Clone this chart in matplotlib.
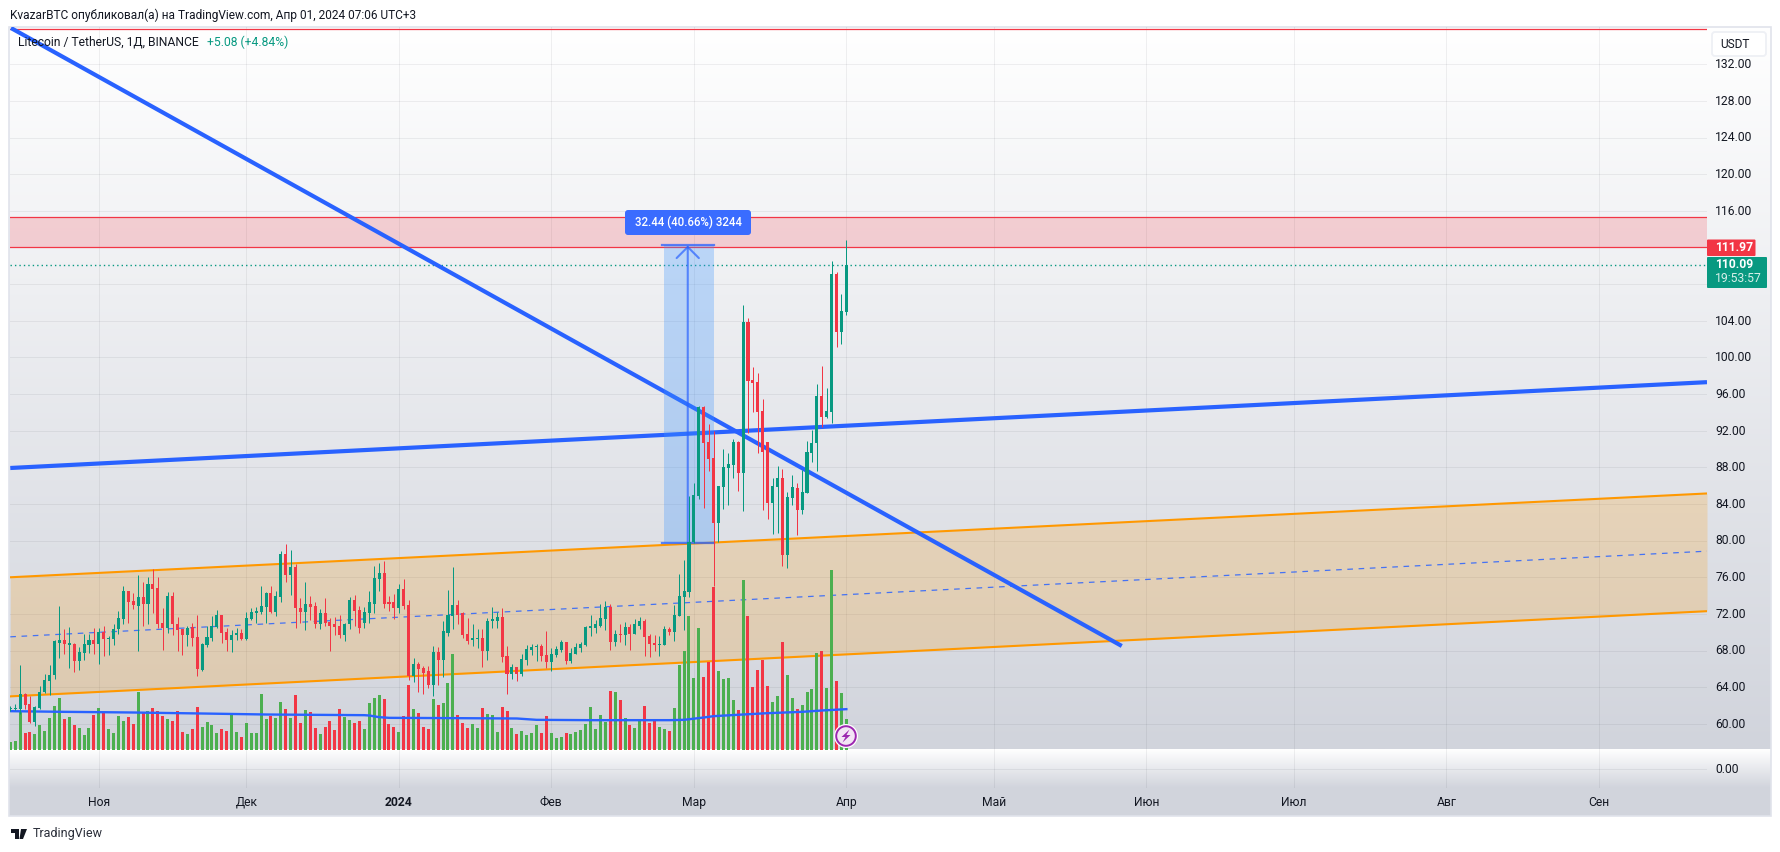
import matplotlib
matplotlib.use("Agg")
import numpy as np
import matplotlib.pyplot as plt
from matplotlib.patches import Rectangle, FancyBboxPatch, Circle, Polygon
from matplotlib.colors import LinearSegmentedColormap
from matplotlib import transforms

plt.rcParams['font.family'] = ['Roboto', 'DejaVu Sans']

opens = [61.65,61.65,61.6,63.3,62.2,60.25,61.7,63.45,64.7,65.3,68.87,69.2,68.65,68.75,66.9,67.7,68.65,69.2,68.75,70,69.3,69.3,70.3,71.5,74.45,73.45,72.9,73.9,73.1,75.3,74.85,71.05,70.5,74,70.95,70.3,69.75,70.6,69.5,65.9,68.65,69.4,70.6,71.9,70.05,69.1,69.65,69.95,69.3,71.5,72.15,72.25,72.75,74.3,72.25,73.9,78.5,76.2,77.15,72.7,72.25,73.1,72.9,70.85,72.15,71.15,70.85,70.7,69.75,70.85,73.55,72.45,71.05,72.15,73.1,75.85,76.5,73.25,73.25,72.7,74.75,73,65.25,66.55,66.1,65.8,64.25,67.85,67,69.95,71.8,73,72.05,69.85,69.1,69.3,69.4,68,71.25,71.25,71.7,67.4,65.45,66.2,65.45,67,68.05,68.4,68.5,67.5,66.75,67.5,68.05,68.95,66.85,67.65,68.3,68.6,70.5,70.5,70.7,71.5,72.8,68.9,69.85,69.65,70.6,69.85,70.7,71.25,69.6,68.85,68.65,68.65,70.35,70.05,71.8,73.9,74.35,79.85,84.9,94.6,90.75,89,81.9,85.85,87.95,88.25,90.75,87.4,103.85,97.55,97.3,94.15,90.75,84.1,85.85,86.85,78.45,84.65,85.75,83.35,85.2,89.55,90.65,95.8,93.5,94.05,109.1,102.8,105.01]
highs = [62,62.2,66.4,63.35,63,62,64.1,65.45,66.4,69.1,72.9,70.4,70.6,68.85,68.4,69.8,69.8,70.45,70.45,70.7,69.6,70.85,72.35,75,74.55,74.3,76.2,75.5,76,76.85,76.05,72.6,74.35,74.35,71.7,70.3,70.7,71.05,71.9,68.85,70.7,71.8,72.45,71.9,70.5,70.2,70.5,70.4,72.25,72.7,72.8,75.1,74.35,75,74.55,78.9,79.6,79,77.4,73.7,75.5,74,73.35,72.5,73.7,71.6,71.7,71.9,71.05,73.8,74.1,72.9,72.8,74.45,77.25,77.6,77.8,74,74.2,75.3,75.85,73.55,67.2,66.75,66.3,66.3,68.45,68.35,71.25,74.65,77.15,73.55,72.25,71.6,70.85,70.4,70.4,71.6,72.8,72.25,72.7,68.5,66.55,66.2,67.65,68.6,68.7,68.7,68.7,70.15,68.3,68.5,69.15,68.95,68.3,68.85,68.95,70.7,71.9,71.3,73.1,73.45,73.1,70.25,70.95,71.15,70.85,71.4,71.7,71.5,69.85,69.7,69.6,70.7,70.55,73,76.4,77.9,84.9,86.25,94.7,94.7,92.75,92,85.95,90,89.55,91.1,90.85,105.7,104.3,98.95,98.3,95.5,90.75,86.85,88.15,87.8,85.3,87.15,86.3,87.7,90.85,92.05,97.1,99.05,96.7,110.55,109.35,106.95,112.8]
lows = [61.4,61.5,61.1,61.6,60.1,59.8,61.6,63.35,63.15,64.9,67.16,67.67,66.15,65.7,65.9,67,67.7,67.6,66.5,67.45,67.55,68.65,69.85,70.85,71.05,72.5,67.9,70.7,70.85,72.15,70.5,68.1,69.95,69.75,68,67.55,68.55,68.55,65.25,65.8,68.4,69,70.5,68.85,67.9,67.8,69.2,69.1,69.2,71.3,71,71.95,71.05,72.15,71.8,73.35,75.5,74.1,70.5,71.05,70.2,71.3,70.5,70.4,70.7,68,69.75,69.4,69,70.3,70.7,69.95,70.5,71.05,72.05,74.55,72.7,72.35,71.4,72.05,72.5,64.8,64.6,63.5,63.25,63.9,63,64.25,65.15,69.6,70.4,70.95,69.4,68.75,68.45,68.3,66.25,67,70.5,70.5,66.7,63.3,64.9,64.7,65.25,66.45,67.5,66.9,66.85,66.1,65.8,67.3,67.85,66.55,66.65,67.65,67.85,68.5,69.55,69.95,70.6,70.25,68.1,68.45,68.95,68.65,68.05,69.85,70.4,67.45,67.35,68,67.45,68.65,69.75,69,71.8,70.25,73.9,79.7,84.55,83.55,87.6,75,79.85,83.45,83.9,86.85,85.4,83.2,91.8,94.05,89.6,83.35,82.35,80.7,80.85,77.25,77,83.9,80.6,82.9,85.2,88.6,87.6,92.4,93.4,92.85,101.15,101.5,104.6]
closes = [61.7,61.7,63.3,62.1,60.2,61.85,63.45,64.8,65.35,69,69.2,68.7,68.8,66.9,67.8,68.75,69.2,68.75,70,69.3,69.4,70.4,71.6,74.45,73.35,73,73.8,73.1,75.3,74.75,70.95,70.5,74,70.85,70.2,69.75,70.5,69.4,66,68.75,69.5,70.7,71.9,69.95,69.1,69.75,69.95,69.3,71.6,72.25,72.35,72.9,74.3,72.25,74,78.5,76.2,77.15,72.6,72.25,73.1,72.8,70.85,72.15,71.05,70.7,70.6,69.75,70.95,73.55,72.35,70.5,72.25,73.25,75.95,76.5,73.1,73.1,72.7,74.75,72.9,65.2,66.55,66,65.55,64.25,67.85,67,70.15,71.9,73,71.9,69.65,69,69.4,69.4,68,71.25,71.4,71.7,67.25,65.45,66.2,65.45,67.1,68.2,68.4,68.5,67.4,66.75,67.65,68.2,68.95,66.85,67.7,68.4,68.75,70.6,70.65,70.85,71.6,72.8,68.9,69.85,69.7,70.6,69.85,70.85,71.25,69.5,68.75,68.65,68.75,70.35,70.05,71.9,74,74.45,79.9,85,94.6,90.65,88.9,81.9,85.95,88,88.35,90.75,87.4,103.85,97.4,97.2,94.05,89.7,84.1,85.95,86.85,78.45,84.75,85.85,83.35,85.3,89.65,90.65,95.8,93.5,94.15,109.1,102.8,105.05,110.09]
volumes = [24,27,114,51,54,48,75,57,96,132,156,93,99,75,66,45,66,105,126,111,63,51,102,87,99,78,174,111,117,126,117,102,93,87,117,54,48,63,129,69,84,75,51,63,57,105,54,39,81,51,51,168,93,102,96,144,123,96,165,81,120,114,66,48,69,87,60,123,99,90,81,87,63,141,156,165,153,78,69,54,102,195,123,111,69,63,153,135,141,201,288,105,81,66,78,66,126,108,105,54,129,117,66,48,57,45,51,75,51,102,51,36,39,51,48,54,60,78,129,63,105,84,177,174,150,96,75,66,87,132,81,87,69,63,57,126,255,297,402,216,366,219,264,489,237,213,216,150,120,510,402,189,240,270,192,144,162,324,225,156,123,135,174,183,291,297,186,540,207,171,93]

ma_bars = [0,11,25,39,52,72,73,75,77,91,103,107,118,134,137,141,143,149,154,161,165,170]
ma_vals = [115,113,111,108,105,103,102,97,95,94,93,89,88,88,89,96,100,105,109,113,117,121]

price_ticks = [60,64,68,72,76,80,84,88,92,96,100,104,108,112,116,120,124,128,132]
price_labels = ['60.00','64.00','68.00','72.00','76.00','80.00','84.00','88.00','92.00','96.00','100.00','104.00','','','116.00','120.00','124.00','128.00','132.00']
month_bars = [18,48,79,110,139,170,200,231,261,292,323]
month_labels = ['Ноя','Дек','2024','Фев','Мар','Апр','Май','Июн','Июл','Авг','Сен']

diag_bars, diag_prices = [0.14, 226], [135.96, 68.5]
trend_bars, trend_prices = [0, 345], [87.93, 97.3]
chan_bars = [0, 345]
chan_upper, chan_mid, chan_lower = [76.0, 85.15], [69.5, 78.85], [63.0, 72.3]
zone_low, zone_high, top_line, last_close = 112.0, 115.3, 135.8, 110.09
meas_bars, meas_prices = [133, 143.1], [79.78, 112.22]

W, H = 1781, 852
fig = plt.figure(figsize=(W/100, H/100), dpi=100, facecolor='white')

bg = fig.add_axes([0, 0, 1, 1], zorder=0)
bg.axis('off')
grad = np.linspace(0, 1, 256).reshape(-1, 1)
cm = LinearSegmentedColormap.from_list('g', ['#ffffff', '#d1d4dc'])
bg.imshow(grad, cmap=cm, extent=(9.5, 1771, 749.5, 27), aspect='auto', interpolation='bilinear', zorder=1)
bg.imshow(grad, cmap=cm, extent=(9.5, 1771, 788, 749.5), aspect='auto', interpolation='bilinear', zorder=1)
bg.add_patch(Rectangle((9.5, 788), 1761.5, 27.5, fc='#d1d4dc', ec='none', zorder=1))
bg.add_patch(Rectangle((9, 26.5), 1762.5, 789.5, fc='none', ec='#e0e3eb', lw=1.2, zorder=2))
bg.set_xlim(0, W); bg.set_ylim(H, 0)


def frac(x0, x1, y0, y1):
    return [x0/W, 1-y1/H, (x1-x0)/W, (y1-y0)/H]


def nudge_up(labels, px):
    off = transforms.ScaledTranslation(0, px/100, fig.dpi_scale_trans)
    for t in labels:
        t.set_transform(t.get_transform() + off)


ax = fig.add_axes(frac(10, 1707, 27, 749.5), zorder=1)
ax.patch.set_alpha(0)
for s in ax.spines.values():
    s.set_visible(False)
grid = '#2a2e39'
for p in price_ticks:
    ax.axhline(p, color=grid, alpha=0.07, lw=0.75, zorder=1)
for m in month_bars:
    ax.axvline(m, color=grid, alpha=0.07, lw=0.75, zorder=1)
ax.yaxis.tick_right()
ax.set_yticks(price_ticks)
ax.set_yticklabels(price_labels, fontsize=8.7, color='#131722')
ax.tick_params(axis='y', length=0, pad=6)
ax.set_xticks([])
nudge_up(ax.get_yticklabels(), 1.2)

# drawings
ax.add_patch(Rectangle((chan_bars[0], zone_low), chan_bars[1], zone_high-zone_low, fc='#f23645', alpha=0.2, ec='none', zorder=2))
ax.plot(chan_bars, [zone_low]*2, color='#f23645', lw=0.9, zorder=3)
ax.plot(chan_bars, [zone_high]*2, color='#f23645', lw=0.9, zorder=3)
ax.plot(chan_bars, [top_line]*2, color='#f23645', lw=0.9, zorder=3)
ax.plot(chan_bars, [last_close]*2, color='#089981', lw=1.0, ls=(0, (1, 2.2)), zorder=3)
ax.fill_between(chan_bars, chan_lower, chan_upper, color='#ff9800', alpha=0.2, lw=0, zorder=2)
ax.plot(chan_bars, chan_upper, color='#ff9800', lw=1.5, zorder=3)
ax.plot(chan_bars, chan_lower, color='#ff9800', lw=1.5, zorder=3)
ax.plot(chan_bars, chan_mid, color='#2962ff', lw=0.9, ls=(0, (4.5, 4.5)), alpha=0.85, zorder=3)
ax.plot(diag_bars, diag_prices, color='#2962ff', lw=3.0, solid_capstyle='butt', zorder=3.2)
ax.plot(trend_bars, trend_prices, color='#2962ff', lw=3.0, solid_capstyle='butt', zorder=3.2)

# measure tool
mx = (meas_bars[0]+meas_bars[1])/2 - 0.3
ax.add_patch(Rectangle((meas_bars[0], meas_prices[0]), meas_bars[1]-meas_bars[0], meas_prices[1]-meas_prices[0],
                       fc='#3e95ff', alpha=0.3, ec='none', zorder=3.5))
ax.plot([meas_bars[0]-0.4, meas_bars[1]], [meas_prices[0]]*2, color='#2962ff', lw=1.6, alpha=0.75, zorder=3.6)
ax.plot([meas_bars[0]-0.4, meas_bars[1]], [meas_prices[1]]*2, color='#2962ff', lw=1.6, alpha=0.75, zorder=3.6)
ax.annotate('', xy=(mx, meas_prices[1]), xytext=(mx, meas_prices[0]),
            arrowprops=dict(arrowstyle='->,head_length=0.8,head_width=0.8', color='#2962ff', lw=1.5, alpha=0.7, shrinkA=0, shrinkB=0),
            zorder=3.6)

# volume, drawn through a scale sharing the bars' x axis
VOL_SPAN = 2167.5
xs = np.arange(len(closes))
o, h, l, c = map(np.array, (opens, highs, lows, closes))
up = c >= o
vol_tr = transforms.blended_transform_factory(ax.transData, transforms.Affine2D().scale(1, 1/VOL_SPAN) + ax.transAxes)
ax.bar(xs, volumes, width=0.61, color=np.where(up, '#4caf50', '#f23645'), transform=vol_tr, lw=0, zorder=4)
ax.plot(ma_bars, ma_vals, color='#2962ff', lw=1.7, transform=vol_tr, zorder=4.5)

# candles
cols = np.where(up, '#089981', '#f23645')
ax.vlines(xs, l, h, colors=cols, lw=0.72, zorder=5)
bot = np.minimum(o, c)
ht = np.maximum(np.abs(c-o), 0.11)
ax.bar(xs, ht, bottom=bot, width=0.62, color=cols, lw=0, zorder=5.1)
ax.set_xlim(-0.06, 345.0)
ax.set_ylim(57.2, 136.07)

# lower strip
low = fig.add_axes(frac(10, 1707, 749.5, 788), zorder=1)
low.patch.set_alpha(0)
low.set_xlim(-0.06, 345.0)
low.set_ylim(-18.7, 19.8)
for s in low.spines.values():
    s.set_visible(False)
low.axhline(0, color=grid, alpha=0.07, lw=0.75)
for m in month_bars:
    low.axvline(m, color=grid, alpha=0.07, lw=0.75)
low.yaxis.tick_right()
low.set_yticks([0])
low.set_yticklabels(['0.00'], fontsize=8.7, color='#131722')
low.tick_params(axis='y', length=0, pad=6)
nudge_up(low.get_yticklabels(), 1.2)
low.set_xticks(month_bars)
low.set_xticklabels(month_labels, fontsize=8.7, color='#131722')
low.tick_params(axis='x', length=0, pad=5.5)
for t in low.get_xticklabels():
    if t.get_text() == '2024':
        t.set_fontweight('bold')

# overlay chrome
top = fig.add_axes([0, 0, 1, 1], zorder=5)
top.set_xlim(0, W); top.set_ylim(H, 0); top.axis('off'); top.patch.set_alpha(0)
top.text(10, 15, 'KvazarBTC опубликовал(а) на TradingView.com, Апр 01, 2024 07:06 UTC+3', fontsize=8.6, color='#131722', va='center')
top.text(18, 42, 'Litecoin / TetherUS, 1Д, BINANCE', fontsize=8.7, color='#131722', va='center')
top.text(207, 42, '+5.08 (+4.84%)', fontsize=8.7, color='#089981', va='center')
top.text(33, 834, 'TradingView', fontsize=9.0, color='#2a2e39', va='center')
top.add_patch(Polygon([(11, 829), (19, 829), (19, 839), (15, 839), (15, 833), (11, 833)], fc='#131722', ec='none'))
top.add_patch(Polygon([(21, 829), (27, 829), (23, 839), (19.5, 839)], fc='#131722', ec='none'))
top.add_patch(FancyBboxPatch((1712, 32), 54, 24, boxstyle='round,pad=0,rounding_size=3', fc='white', ec='#eef0f5', lw=1.3))
top.text(1720, 44, 'USDT', fontsize=8.6, color='#131722', va='center')
top.add_patch(FancyBboxPatch((1707, 239.5), 48.5, 16.5, boxstyle='round,pad=0,rounding_size=1', fc='#f23645', ec='none'))
top.text(1715, 247.5, '111.97', fontsize=8.7, color='white', va='center', fontweight='bold')
top.add_patch(FancyBboxPatch((1707, 257), 60, 31, boxstyle='round,pad=0,rounding_size=1', fc='#089981', ec='none'))
top.text(1715, 265, '110.09', fontsize=8.7, color='white', va='center', fontweight='bold')
top.text(1715, 279, '19:53:57', fontsize=8.7, color='#d9f0ea', va='center')
top.add_patch(FancyBboxPatch((625, 210), 126, 25, boxstyle='round,pad=0,rounding_size=3', fc='#3a6cff', ec='none'))
top.text(688, 222.5, '32.44 (40.66%) 3244', fontsize=8.3, color='white', va='center', ha='center', fontweight='medium')
top.add_patch(Circle((846, 736), 12, fc='white', ec='none'))
top.add_patch(Circle((846, 736), 9.8, fc='#f3e5f5', ec='#9c27b0', lw=1.4))
top.add_patch(Polygon([(849.5, 729.5), (841.5, 737), (845.5, 737), (842.5, 742.5), (850.5, 735), (846.5, 735)], fc='#9c27b0', ec='none'))

fig.savefig('out.png', dpi=100, facecolor='white')
